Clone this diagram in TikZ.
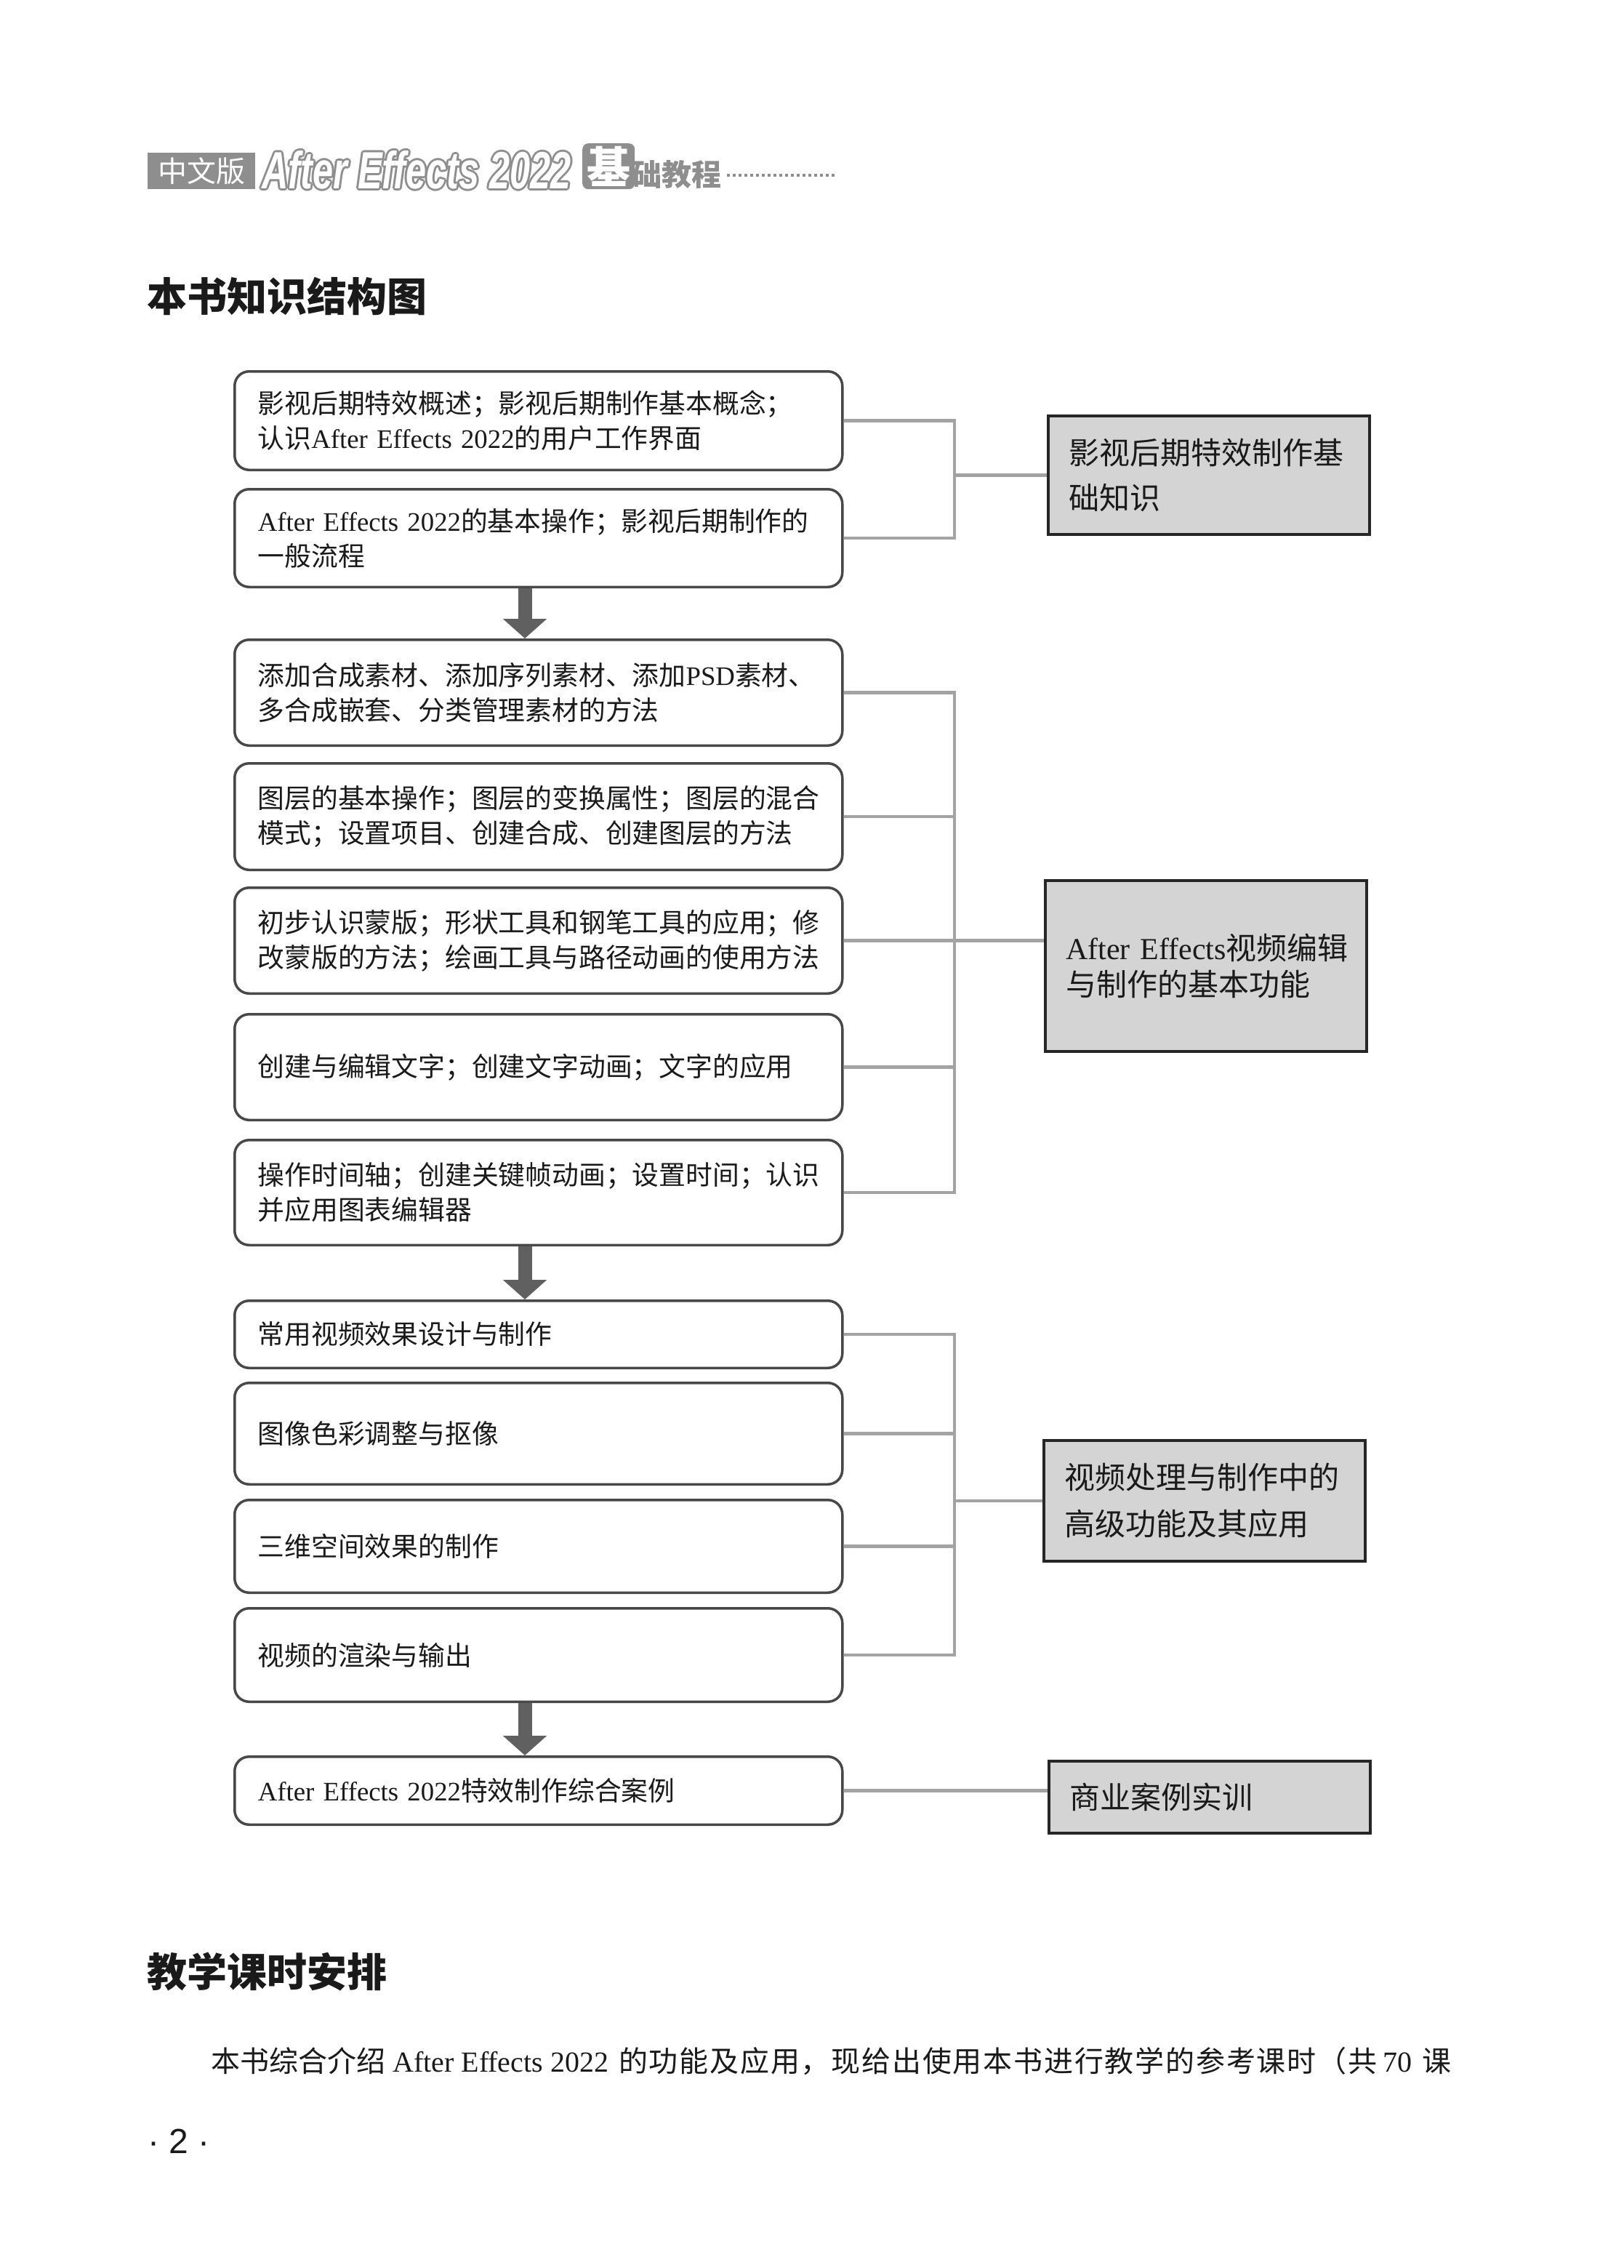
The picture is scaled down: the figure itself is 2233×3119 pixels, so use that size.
\documentclass[tikz,border=0pt]{standalone}
\usepackage{fontspec}
\setmainfont{Noto Sans CJK SC}
\newfontfamily\enfont{Liberation Serif}
\newfontfamily\hdfont[FakeStretch=0.7]{Liberation Sans Bold Italic}
\newfontfamily\pgfont{Liberation Sans}
\newcommand{\en}[1]{{\enfont #1}}
\usepackage{tikz}
\usetikzlibrary{positioning, arrows.meta}
\definecolor{ink}{HTML}{1A1A1A}
\definecolor{boxline}{HTML}{484848}
\definecolor{linkgray}{HTML}{A3A3A3}
\definecolor{flowgray}{HTML}{606060}
\definecolor{rbfill}{HTML}{D4D4D4}
\definecolor{rbline}{HTML}{262626}
\definecolor{hdgray}{HTML}{8E8E8E}

\begin{document}
\begin{tikzpicture}
        [
            x=1pt, y=-1pt,
            lbox/.style={draw=boxline, line width=3.5pt, rounded corners=20pt,
                         text width=772pt, inner xsep=32pt, inner ysep=0pt,
                         align=left, text=ink, minimum height=#1,
                         font=\fontsize{36.8pt}{48pt}\selectfont},
            rbox/.style={draw=rbline, fill=rbfill, line width=4pt,
                         text width=386pt, inner xsep=28pt, inner ysep=0pt,
                         align=left, text=ink, anchor=north west, minimum height=#1,
                         font=\fontsize{42pt}{62pt}\selectfont},
            link/.style={draw=linkgray, line width=4.5pt},
            flow/.style={color=flowgray, line width=19pt,
                         -{Triangle[width=59pt, length=27pt]}},
            heading/.style={font=\bfseries\fontsize{55pt}{55pt}\selectfont,
                            text=ink, inner sep=0pt, anchor=west},
            hdtitle/.style={font=\hdfont\fontsize{72pt}{72pt}\selectfont, inner sep=0pt}
        ]
        \path [use as bounding box, fill=white] (0,0) rectangle (2233,3119);

        % running head
        \node (ed) [fill=hdgray, text=white, inner sep=0pt, minimum width=148pt,
                    minimum height=50pt, anchor=north west,
                    font=\fontsize{40pt}{40pt}\selectfont] at (203,210) {中文版};
        \foreach \dx/\dy in {-3/0, 3/0, 0/-3, 0/3, -2/-2, 2/2, -2/2, 2/-2}
            \node [hdtitle, text=hdgray, xshift=\dx pt, yshift=\dy pt] at (573,234) {After Effects 2022};
        \node (ae) [hdtitle, text=white] at (573,234) {After Effects 2022};
        \node (ji) [fill=hdgray, text=white, rounded corners=8pt, inner sep=0pt,
                    minimum width=72pt, minimum height=63pt, anchor=north west,
                    font=\bfseries\fontsize{60pt}{60pt}\selectfont] at (801,197) {基};
        \node (jc) [text=hdgray, inner sep=0pt, anchor=west,
                    font=\bfseries\fontsize{41pt}{41pt}\selectfont] at (869,240) {础教程};
        \draw [hdgray, line width=3.5pt, dash pattern=on 4pt off 4pt] (1000,241) -- (1151,241);

        \node (t1) [heading] at (202,407) {本书知识结构图};

        % left column
        \node (b1) [lbox=135.5pt, anchor=north west] at (321,509)
            {影视后期特效概述；影视后期制作基本概念；\\认识\en{After Effects 2022}的用户工作界面};
        \node (b2) [lbox=134.5pt, below=23pt of b1]
            {\en{After Effects 2022}的基本操作；影视后期制作的\\一般流程};
        \node (b3) [lbox=145.5pt, below=69pt of b2]
            {添加合成素材、添加序列素材、添加\en{PSD}素材、\\多合成嵌套、分类管理素材的方法};
        \node (b4) [lbox=146.5pt, below=21pt of b3]
            {图层的基本操作；图层的变换属性；图层的混合\\模式；设置项目、创建合成、创建图层的方法};
        \node (b5) [lbox=145.5pt, below=21pt of b4]
            {初步认识蒙版；形状工具和钢笔工具的应用；修\\改蒙版的方法；绘画工具与路径动画的使用方法};
        \node (b6) [lbox=145.5pt, below=25pt of b5] {创建与编辑文字；创建文字动画；文字的应用};
        \node (b7) [lbox=144.5pt, below=24pt of b6]
            {操作时间轴；创建关键帧动画；设置时间；认识\\并应用图表编辑器};
        \node (b8) [lbox=92.5pt, below=73pt of b7] {常用视频效果设计与制作};
        \node (b9) [lbox=139.5pt, below=17pt of b8] {图像色彩调整与抠像};
        \node (b10) [lbox=127.5pt, below=18pt of b9] {三维空间效果的制作};
        \node (b11) [lbox=128.5pt, below=18pt of b10] {视频的渲染与输出};
        \node (b12) [lbox=93.5pt, below=72pt of b11] {\en{After Effects 2022}特效制作综合案例};

        % right column
        \node (c1) [rbox=163pt] at (1440,570) {影视后期特效制作基\\础知识};
        \node (c2) [rbox=235pt, font=\fontsize{42pt}{50pt}\selectfont] at (1436,1209)
            {\mbox{\en{After Effects}视频编辑}\\与制作的基本功能};
        \node (c3) [rbox=166pt, font=\fontsize{42pt}{64pt}\selectfont] at (1434,1979)
            {视频处理与制作中的\\高级功能及其应用};
        \node (c4) [rbox=99pt] at (1441,2420) {商业案例实训};

        % flow arrows
        \coordinate (ax) at (722,0);
        \draw [flow] (b2.south -| ax) -- (b3.north -| ax);
        \draw [flow] (b7.south -| ax) -- (b8.north -| ax);
        \draw [flow] (b11.south -| ax) -- (b12.north -| ax);

        % brackets
        \coordinate (bx) at (1313,0);
        \draw [link] (b1.east) -- (b1.east -| bx) -- (b2.east -| bx) -- (b2.east);
        \draw [link] (bx |- c1.west) -- (c1.west);
        \draw [link] (b3.east) -- (b3.east -| bx) -- (b7.east -| bx) -- (b7.east);
        \foreach \b in {b4,b5,b6}
            \draw [link] (\b.east) -- (\b.east -| bx);
        \draw [link] (b5.east -| bx) -- (b5.east -| c2.west);
        \draw [link] (b8.east) -- (b8.east -| bx) -- (b11.east -| bx) -- (b11.east);
        \foreach \b in {b9,b10}
            \draw [link] (\b.east) -- (\b.east -| bx);
        \draw [link] (bx |- c3.west) -- (c3.west);
        \draw [link] (b12.east) -- (b12.east -| c4.west);

        % text below
        \node (t2) [heading] at (202,2712) {教学课时安排};
        \node (p1) [anchor=west, inner sep=0pt, text=ink,
                    font=\fontsize{40pt}{40pt}\selectfont] at (290,2834)
            {本书综合介绍\hspace{10pt}\en{After Effects 2022}\hspace{14pt}{\addfontfeature{LetterSpace=4.5}的功能及应用，现给出使用本书进行教学的参考课时（共}\hspace{8pt}\en{70}\hspace{14pt}课};
        \node (pg) [anchor=west, inner sep=0pt, text=ink,
                    font=\pgfont\fontsize{48pt}{48pt}\selectfont] at (203,2945) {· 2 ·};
    \end{tikzpicture}
\end{document}
